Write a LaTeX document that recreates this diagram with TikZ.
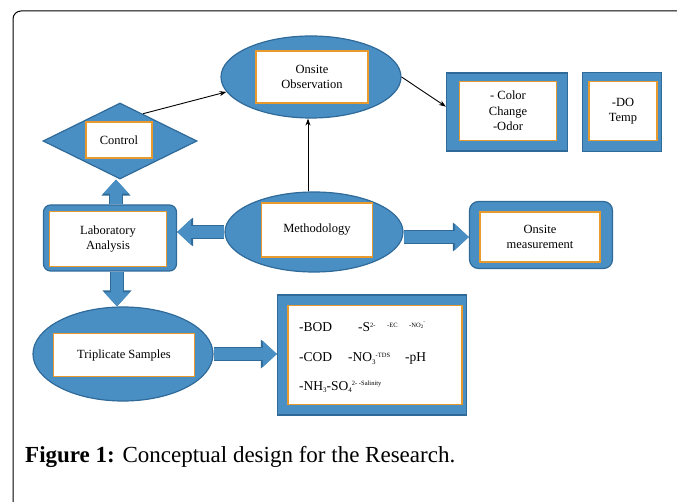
\documentclass[tikz,border=0pt]{standalone}
\usepackage{fontspec}
\setmainfont{Liberation Serif}
\definecolor{boxBlue}{HTML}{4A8FC4}
\definecolor{boxEdge}{HTML}{2F6A99}
\definecolor{boxOrange}{HTML}{E89B2C}
\usetikzlibrary{shapes.geometric, arrows.meta, positioning, calc, backgrounds}
\newcommand{\boxfont}{\fontsize{12.5}{15.5}\selectfont}
\newcommand{\chemup}[1]{\raisebox{5pt}{\fontsize{6.5}{7}\selectfont #1}}
\newcommand{\chemdn}[1]{\raisebox{-2.5pt}{\fontsize{7}{7}\selectfont #1}}

\begin{document}
\begin{tikzpicture}[x=1pt, y=-1pt,
  oval/.style={ellipse, fill=boxBlue, draw=boxEdge, line width=1.2pt, inner sep=0pt},
  frame/.style={rectangle, fill=boxBlue, draw=boxEdge, line width=1.2pt, inner sep=0pt},
  kite/.style={diamond, fill=boxBlue, draw=boxEdge, line width=1.2pt, inner sep=0pt},
  inbox/.style={rectangle, fill=white, draw=boxOrange, line width=1.3pt,
    align=center, font=\boxfont, inner sep=0pt},
  chem/.style={anchor=base west, inner sep=0pt, font=\fontsize{13.5}{15}\selectfont},
  fat/.style={line width=12pt, draw=boxBlue, -{Triangle[width=25pt,length=14pt]},
    preaction={draw=boxEdge, line width=14.4pt, -{Triangle[width=28pt,length=16pt]}}},
  thin/.style={line width=0.9pt, -{Stealth[length=7pt,width=5pt]}}]

  \useasboundingbox (0,0) rectangle (677,502);
  \begin{scope}
    \clip (0,0) rectangle (677,502);
    \draw[line width=1pt, rounded corners=8pt] (13,11) rectangle (720,540);
  \end{scope}

  % observation side
  \node[oval, minimum width=180pt, minimum height=82pt] (obsO) at (311,77) {};
  \node[inbox, minimum width=112pt, minimum height=52pt] (obs) at (312,77) {Onsite\\Observation};

  \node[frame, minimum width=121pt, minimum height=78pt] (colF) at (507,112) {};
  \node[inbox, minimum width=97pt, minimum height=59pt] (col) at (508,111) {- Color\\Change\\-Odor};

  \node[frame, minimum width=79pt, minimum height=79pt] (doF) at (622,112) {};
  \node[inbox, minimum width=68pt, minimum height=59pt] (do) at (623,111) {-DO\\Temp};

  \node[kite, minimum width=154pt, minimum height=76pt] (ctrlD) at (120,141) {};
  \node[inbox, minimum width=66pt, minimum height=36pt] (ctrl) at (119,140) {Control};

  % middle row
  \node[frame, rounded corners=7pt, minimum width=133pt, minimum height=66pt] (labF) at (110,238) {};
  \node[inbox, minimum width=117pt, minimum height=55pt] (lab) at (108,239) {Laboratory\\Analysis};

  \node[oval, minimum width=178pt, minimum height=80pt] (methO) at (314,232) {};
  \node[inbox, minimum width=111pt, minimum height=54pt] (meth) at (317,230) {Methodology};

  \node[frame, rounded corners=9pt, minimum width=143pt, minimum height=67pt] (measF) at (541,235) {};
  \node[inbox, minimum width=120pt, minimum height=50pt] (meas) at (540,237) {Onsite\\measurement};

  % samples and parameters
  \node[oval, minimum width=180pt, minimum height=94pt] (tripO) at (123,354) {};
  \node[inbox, minimum width=141pt, minimum height=43pt] (trip) at (124,355) {Triplicate Samples};

  \node[frame, minimum width=189pt, minimum height=120pt] (chemF) at (372,355) {};
  \node[inbox, minimum width=174pt, minimum height=99pt] (chemB) at (375,355) {};
  \node[chem] (bod) at (299,332) {-BOD};
  \node[chem] (sulf) at (358,332) {-S\chemup{2-}};
  \node[chem, font=\fontsize{6.5}{7}\selectfont] (ec) at (387,327) {-EC};
  \node[chem, font=\fontsize{6.5}{7}\selectfont] (nitri) at (409,327) {-NO\raisebox{-1.5pt}{\fontsize{5}{5}\selectfont 2}\raisebox{3pt}{\fontsize{5}{5}\selectfont -}};
  \node[chem] (cod) at (299,362) {-COD};
  \node[chem] (nitra) at (348,362) {-NO\chemdn{3}\chemup{-TDS}};
  \node[chem] (ph) at (405,362) {-pH};
  \node[chem] (amm) at (299,390) {-NH\chemdn{3}-SO\chemdn{4}\chemup{2- -Salinity}};

  % caption
  \node[anchor=base west, inner sep=0pt, font=\fontsize{23}{27}\selectfont] (cap) at (25,462)
    {\textbf{Figure 1:} Conceptual design for the Research.};

  % block arrows
  \begin{scope}[on background layer]
    \draw[fat] ([xshift=6pt]labF.north) -- ([xshift=6pt]labF.north |- ctrlD.south);
    \draw[fat] ([xshift=7pt]labF.south) -- ([xshift=7pt]labF.south |- tripO.north);
    \draw[fat] (methO.west) -- (methO.west -| labF.east);
    \draw[fat] (methO.east |- meas) -- (measF.west |- meas);
    \draw[fat] (tripO.east) -- (tripO.east -| chemF.west);
  \end{scope}

  % thin arrows
  \draw[thin] (ctrlD.50) -- (obsO.190);
  \draw[thin] (obsO.east) -- (colF.175);
  \draw[thin] ([xshift=-6pt]methO.north) -- ([xshift=-6pt]methO.north |- obsO.south);
\end{tikzpicture}
\end{document}
